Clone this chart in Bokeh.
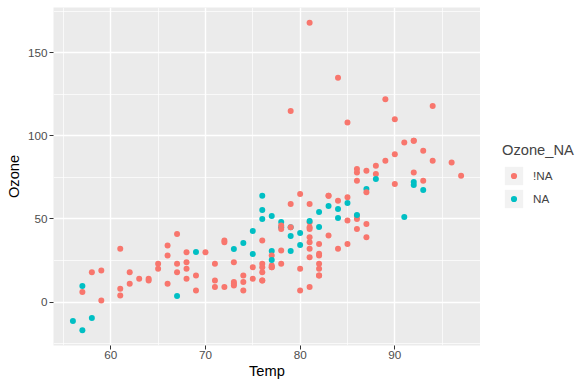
from bokeh.plotting import figure
from bokeh.layouts import row
from bokeh.models import ColumnDataSource, Range1d, FixedTicker, Legend, LegendItem
from bokeh.embed import file_html
from bokeh.resources import INLINE

# airquality: Temp and Ozone (None = missing), rows 1..153
temp = [67, 72, 74, 62, 56, 66, 65, 59, 61, 69,
        74, 69, 66, 68, 58, 64, 66, 57, 68, 62,
        59, 73, 61, 61, 57, 58, 57, 67, 81, 79,
        76, 78, 74, 67, 84, 85, 79, 82, 87, 90,
        87, 93, 92, 82, 80, 79, 77, 72, 65, 73,
        76, 77, 76, 76, 76, 75, 78, 73, 80, 77,
        83, 84, 85, 81, 84, 83, 83, 88, 92, 92,
        89, 82, 73, 81, 91, 80, 81, 82, 84, 87,
        85, 74, 81, 82, 86, 85, 82, 86, 88, 86,
        83, 81, 81, 81, 82, 86, 85, 87, 89, 90,
        90, 92, 86, 86, 82, 80, 79, 77, 79, 76,
        78, 78, 77, 72, 75, 79, 81, 86, 88, 97,
        94, 96, 94, 91, 92, 93, 93, 87, 84, 80,
        78, 75, 73, 81, 76, 77, 71, 71, 78, 67,
        76, 68, 82, 64, 71, 81, 69, 63, 70, 77,
        75, 76, 68]

ozone = [41, 36, 12, 18, None, 28, 23, 19, 8, None,
         7, 16, 11, 14, 18, 14, 34, 6, 30, 11,
         1, 11, 4, 32, None, None, None, 23, 45, 115,
         37, None, None, None, None, None, None, 29, None, 71,
         39, None, None, 23, None, None, 21, 37, 20, 12,
         13, None, None, None, None, None, None, None, None, None,
         None, 135, 49, 32, None, 64, 40, 77, 97, 97,
         85, None, 10, 27, None, 7, 48, 35, 61, 79,
         63, 16, None, None, 80, 108, 20, 52, 82, 50,
         64, 59, 39, 9, 16, 78, 35, 66, 122, 89,
         110, None, None, 44, 28, 65, None, 22, 59, 23,
         31, 44, 21, 9, None, 45, 168, 73, None, 76,
         118, 84, 85, 96, 78, 73, 91, 47, 32, 20,
         23, 21, 24, 44, 21, 28, 9, 13, 46, 18,
         13, 24, 16, 13, 23, 36, 7, 14, 30, None,
         14, 18, 20]

# imputed values for the missing rows, in row order
ozone_imputed = [-11.4, 30.1, -16.9, -9.6, 9.6, 48.2, 35.5, 3.6, 56.0, 59.6,
                 39.8, 68.1, 67.5, 72.3, 41.5, 30.7, 51.8, 63.9, 55.4, 50.0,
                 42.8, 45.0, 31.9, 34.3, 30.7, 57.8, 50.6, 54.2, 51.2, 48.8,
                 45.2, 70.5, 52.4, 45.0, 28.9, 74.1, 25.3]

groups = ["!NA", "NA"]
colors = ["#F8766D", "#00BFC4"]

x_ticks = [60, 70, 80, 90]
x_minor = [55, 65, 75, 85, 95]
y_ticks = [0, 50, 100, 150]
y_minor = [-25, 25, 75, 125, 175]

it = iter(ozone_imputed)
ozone_filled = [o if o is not None else next(it) for o in ozone]
flag = [groups[0] if o is not None else groups[1] for o in ozone]
color = [colors[groups.index(f)] for f in flag]

src = ColumnDataSource(dict(x=temp, y=ozone_filled, color=color, grp=flag))


def expand(lo, hi, f=0.05):
    d = (hi - lo) * f
    return lo - d, hi + d


FONT = "Liberation Sans"
H = 382

p = figure(width=480, height=H, output_backend="svg", toolbar_location=None,
           x_range=Range1d(*expand(min(temp), max(temp))),
           y_range=Range1d(*expand(min(ozone_filled), max(ozone_filled))),
           min_border_left=53, min_border_right=0, min_border_top=7,
           min_border_bottom=37, x_axis_label="Temp", y_axis_label="Ozone")
p.background_fill_color = "#EBEBEB"
p.border_fill_color = "white"
p.outline_line_color = None

p.xaxis.ticker = FixedTicker(ticks=x_ticks, minor_ticks=x_minor)
p.yaxis.ticker = FixedTicker(ticks=y_ticks, minor_ticks=y_minor)

for g in (p.xgrid, p.ygrid):
    g.grid_line_color = "white"
    g.grid_line_width = 1.4
    g.minor_grid_line_color = "white"
    g.minor_grid_line_width = 0.7

for ax in (p.xaxis, p.yaxis):
    ax.axis_line_color = None
    ax.major_tick_line_color = "#333333"
    ax.major_tick_line_width = 1
    ax.major_tick_out = 4
    ax.major_tick_in = 0
    ax.minor_tick_line_color = None
    ax.major_label_text_color = "#4D4D4D"
    ax.major_label_text_font = FONT
    ax.major_label_text_font_size = "11.7px"
    ax.axis_label_text_font = FONT
    ax.axis_label_text_font_size = "14.7px"
    ax.axis_label_text_font_style = "normal"
    ax.axis_label_text_color = "black"
p.xaxis.major_label_standoff = 1
p.xaxis.axis_label_standoff = 1
p.yaxis.major_label_standoff = 2
p.yaxis.axis_label_standoff = 3

p.scatter("x", "y", source=src, size=6, fill_color="color", line_color=None)

# separate legend panel (its ranges keep the data out of view; only the legend keys show)
lg = figure(width=100, height=H, output_backend="svg", toolbar_location=None,
            x_range=Range1d(0, 1), y_range=Range1d(0, 1),
            x_axis_location=None, y_axis_location=None,
            min_border=0, outline_line_color=None)
lg.grid.visible = False
lg.background_fill_color = "white"
lg.border_fill_color = "white"

items = []
for gname, gcol in zip(groups, colors):
    sub = ColumnDataSource(dict(
        x=[t for t, f in zip(temp, flag) if f == gname],
        y=[o for o, f in zip(ozone_filled, flag) if f == gname]))
    key_bg = lg.quad(left="x", right="x", top="y", bottom="y", source=sub,
                     fill_color="#F2F2F2", line_color=None)
    key_dot = lg.scatter("x", "y", source=sub, size=6, fill_color=gcol,
                         line_color="#F2F2F2", line_width=3)
    items.append(LegendItem(label=gname, renderers=[key_bg, key_dot]))

legend = Legend(items=items, location=(22, 135), title="Ozone_NA",
                title_text_font=FONT, title_text_font_size="14.7px",
                title_text_font_style="normal", title_standoff=6,
                label_text_font=FONT, label_text_font_size="11.7px",
                label_standoff=8, glyph_width=23, glyph_height=23,
                label_height=23, spacing=0, padding=0, margin=0,
                background_fill_alpha=0, border_line_alpha=0)
lg.add_layout(legend)

layout = row(p, lg, spacing=0)
open("out.html", "w").write(file_html(layout, INLINE))
